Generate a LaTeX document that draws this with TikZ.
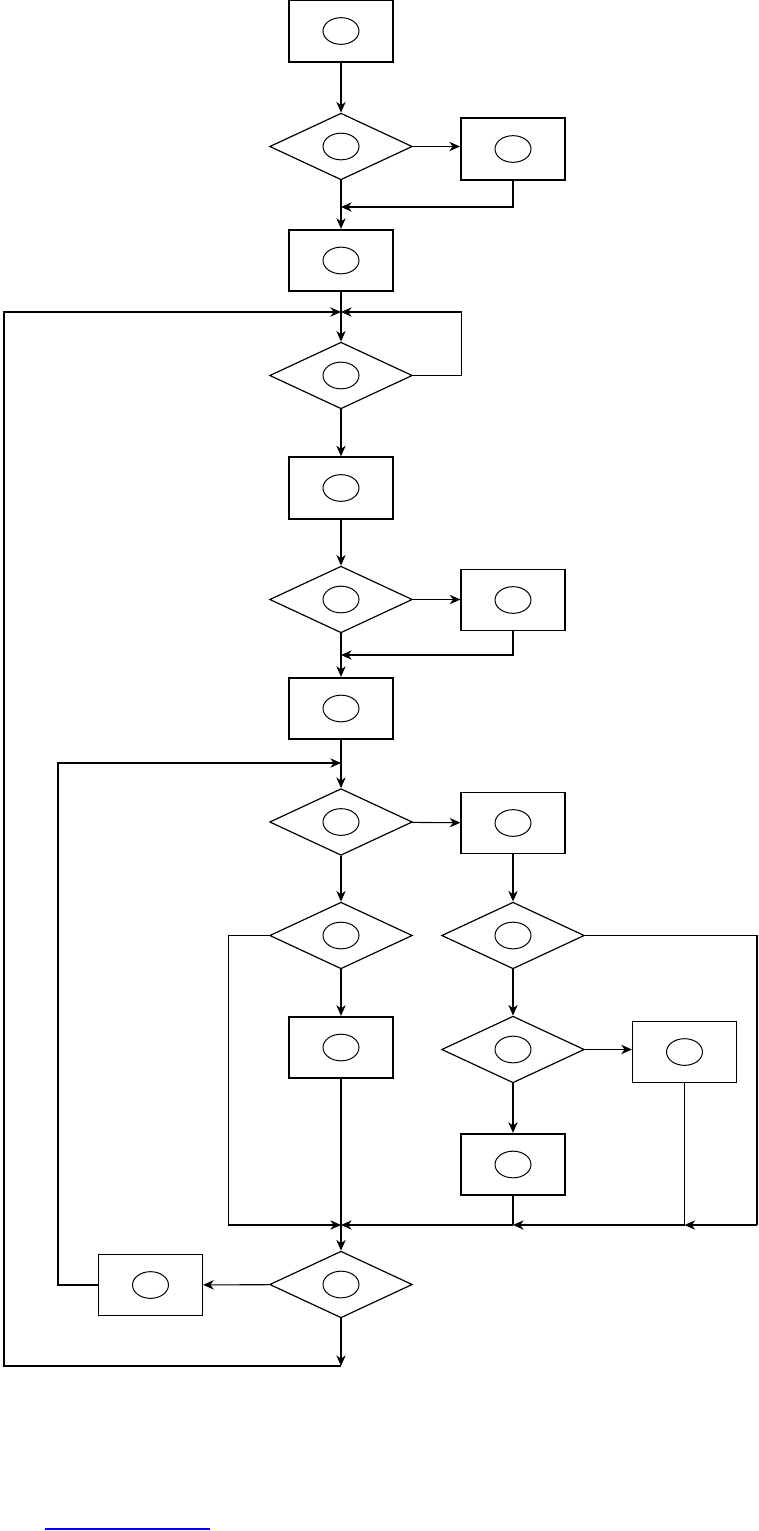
\documentclass[tikz,border=0pt]{standalone}
\usetikzlibrary{shapes.geometric,arrows.meta}
\tikzset{
    blob/.style={path picture={\draw[line width=0.75pt] (path picture bounding box.center) ellipse (13.5pt and 10pt);}},
    proc/.style={draw, line width=0.9pt, minimum width=78pt, minimum height=46pt, inner sep=0pt, blob},
    procb/.style={proc, line width=1.5pt},
    cond/.style={draw, diamond, line width=0.9pt, minimum width=107pt, minimum height=50pt, inner sep=0pt, blob},
    wire/.style={line width=0.8pt},
    flow/.style={wire, -{Stealth[length=8pt,width=7pt,inset=2.5pt]}},
    }

\begin{document}
\begin{tikzpicture}[x=0.75pt,y=-0.75pt]
\useasboundingbox (0,0) rectangle (758,1531);
% main column
\node[procb] (b1) at (341,31) {};
\node[cond] (d1) at (341,146.5) {};
\node[procb] (b2) at (513,149) {};
\node[procb] (b3) at (341,260.5) {};
\node[cond] (d2) at (341,375.5) {};
\node[procb] (b4) at (341,488) {};
\node[cond] (d3) at (341,599.5) {};
\node[proc] (b5) at (513,600) {};
\node[procb] (b6) at (341,708.5) {};
\node[cond] (d4) at (341,822) {};
\node[proc] (b7) at (513,823) {};
\node[cond] (d5) at (341,935.5) {};
\node[cond] (d6) at (513,935.5) {};
\node[procb] (b8) at (341,1047.5) {};
\node[cond] (d7) at (513,1049.5) {};
\node[proc] (b9) at (684.5,1052) {};
\node[procb] (b10) at (513,1164.5) {};
\node[cond] (df) at (341,1284.5) {};
\node[proc] (b11) at (150.5,1285) {};
% junctions
\coordinate (j1) at (341,207);
\coordinate (j2) at (341,312);
\coordinate (j3) at (341,655);
\coordinate (j4) at (341,763);
\coordinate (j5) at (341,1225);
\coordinate (j6) at (513,1225);
\coordinate (j7) at (684.5,1225);
\coordinate (rc) at (757,1225);
\coordinate (loopA) at (4,312);
\coordinate (loopB) at (58,763);
\coordinate (out) at (341,1366);
% connectors
\draw[flow] (b1) -- (d1);
\draw[flow] (d1.east) -- (d1.east -| b2.west);
\draw[flow] (b2.south) |- (j1);
\draw[flow] (d1) -- (b3);
\draw[flow] (b3) -- (d2);
\draw[flow] (d2.east) -- ++(49,0) |- (j2);
\draw[flow] (d2) -- (b4);
\draw[flow] (b4) -- (d3);
\draw[flow] (d3.east) -- (d3.east -| b5.west);
\draw[flow] (b5.south) |- (j3);
\draw[flow] (d3) -- (b6);
\draw[flow] (b6) -- (d4);
\draw[flow] (d4) -- (b7);
\draw[flow] (d4) -- (d5);
\draw[flow] (b7) -- (d6);
\draw[flow] (d5.west) -- ++(-41,0) |- (j5);
\draw[flow] (d5) -- (b8);
\draw[wire] (b8.south) -- (j5);
\draw[flow] (d6) -- (d7);
\draw[flow] (d7.east) -- (d7.east -| b9.west);
\draw[flow] (d7) -- (b10);
\draw[wire] (b10.south) -- (j6);
\draw[flow] (j6) -- (j5);
\draw[wire, line width=1.2pt] (b9.south) -- (j7);
\draw[flow] (j7) -- (j6);
\draw[wire] (d6.east) -| (rc);
\draw[flow] (rc) -- (j7);
\draw[flow] (j5) -- (df);
\draw[flow] (df) -- (b11);
\draw[flow] (b11.west) -| (loopB) -- (j4);
\draw[flow] (df) -- (out);
\draw[flow, line width=1.3pt] (out) -| (loopA) -- (j2);
% underline at the foot
\draw[color=blue, line width=1pt] (45,1529) -- (210,1529);
\end{tikzpicture}
\end{document}
